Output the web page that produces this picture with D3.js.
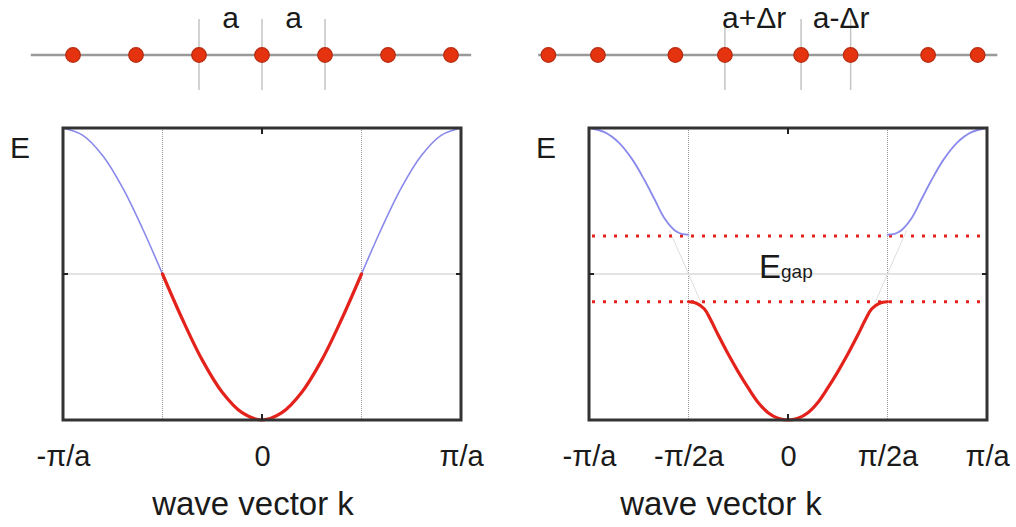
<!DOCTYPE html>
<html>
<head>
<meta charset="utf-8">
<script src="https://cdn.jsdelivr.net/npm/d3@7"></script>
<style>
    body { margin: 0; background: #fff; }
    svg text { font-family: "Liberation Sans", Arial, sans-serif; fill: #1a1a1a; }
</style>
</head>
<body>
<div id="chart"></div>
<script>
// ---- data (k in units of pi/a, E in arbitrary units 0..2) ----

// free chain band
const freeK = [-1, -0.9, -0.8, -0.7, -0.6, -0.5, -0.4, -0.3, -0.2, -0.1, 0,
               0.1, 0.2, 0.3, 0.4, 0.5, 0.6, 0.7, 0.8, 0.9, 1];
const freeE = [2.0, 1.95, 1.81, 1.59, 1.31, 1.0, 0.69, 0.41, 0.19, 0.05, 0,
               0.05, 0.19, 0.41, 0.69, 1.0, 1.31, 1.59, 1.81, 1.95, 2.0];

// dimerized chain, lower band (red)
const lowerK = [-0.5, -0.46, -0.42, -0.39, -0.35, -0.3, -0.25, -0.2, -0.15, -0.1, -0.05, 0,
                0.05, 0.1, 0.15, 0.2, 0.25, 0.3, 0.35, 0.39, 0.42, 0.46, 0.5];
const lowerE = [0.81, 0.80, 0.76, 0.69, 0.58, 0.45, 0.33, 0.22, 0.12, 0.05, 0.012, 0,
                0.012, 0.05, 0.12, 0.22, 0.33, 0.45, 0.58, 0.69, 0.76, 0.80, 0.81];

// dimerized chain, upper band (blue), left and right pieces
const upperLeftK = [-1, -0.92, -0.85, -0.78, -0.72, -0.67, -0.62, -0.57, -0.535, -0.5];
const upperLeftE = [2.0, 1.97, 1.90, 1.78, 1.64, 1.51, 1.38, 1.30, 1.275, 1.27];
const upperRightK = [0.5, 0.535, 0.57, 0.62, 0.67, 0.72, 0.78, 0.85, 0.92, 1];
const upperRightE = [1.27, 1.275, 1.30, 1.38, 1.51, 1.64, 1.78, 1.90, 1.97, 2.0];

const gapEdges = [1.26, 0.81];

const leftTicks = [-1, 0, 1];
const leftTickLabels = ["-π/a", "0", "π/a"];
const rightTicks = [-1, -0.5, 0, 0.5, 1];
const rightTickLabels = ["-π/a", "-π/2a", "0", "π/2a", "π/a"];

// atom positions along the chains (units of a)
const leftAtoms = [-3, -2, -1, 0, 1, 2, 3];
const leftMarkers = [-1, 0, 1];
const leftSpacingLabels = ["a", "a"];
const leftLabelPos = [-0.5, 0.5];

const rightAtoms = [-3.38, -2.6, -1.38, -0.6, 0.6, 1.38, 2.6, 3.38];
const rightMarkers = [-0.6, 0.6, 1.38];
const rightSpacingLabels = ["a+Δr", "a-Δr"];
const rightLabelPos = [-0.14, 1.23];

// ---- drawing ----
const W = 1016, H = 527;
const svg = d3.select("#chart").append("svg")
    .attr("width", W)
    .attr("height", H);

const red = "#e3231b";
const blue = "#8a8aec";

const y = d3.scaleLinear().domain([0, 2]).range([420, 128]);
const xL = d3.scaleLinear().domain([-1, 1]).range([63, 461]);
const xR = d3.scaleLinear().domain([-1, 1]).range([589, 987]);

function panel(x, ticks, tickLabels, titleX) {
    const g = svg.append("g");

    // grid
    g.selectAll(".vgrid")
        .data([-0.5, 0.5])
        .enter().append("line")
        .attr("x1", d => x(d)).attr("x2", d => x(d))
        .attr("y1", y(2)).attr("y2", y(0))
        .attr("stroke", "#999")
        .attr("stroke-width", 1)
        .attr("stroke-dasharray", "1,1");

    g.append("line")
        .attr("x1", x(-1)).attr("x2", x(1))
        .attr("y1", y(1)).attr("y2", y(1))
        .attr("stroke", "#c8c8c8")
        .attr("stroke-width", 1.2);

    // axis labels
    const axis = d3.axisBottom(x)
        .tickValues(ticks)
        .tickSize(0)
        .tickFormat((d, i) => tickLabels[i]);

    const ax = g.append("g")
        .attr("transform", `translate(0,${y(0)})`)
        .call(axis);
    ax.select(".domain").remove();
    ax.selectAll("text")
        .attr("y", 46)
        .attr("dy", 0)
        .style("font-size", "29px")
        .style("fill", "#1a1a1a");

    g.append("text")
        .attr("x", titleX)
        .attr("y", 515)
        .attr("text-anchor", "middle")
        .style("font-size", "33px")
        .text("wave vector k");

    g.append("text")
        .attr("x", x(-1) - 53)
        .attr("y", 158)
        .style("font-size", "30px")
        .text("E");

    return g;
}

function frame(g, x) {
    g.append("rect")
        .attr("x", x(-1)).attr("y", y(2))
        .attr("width", x(1) - x(-1))
        .attr("height", y(0) - y(2))
        .attr("fill", "none")
        .attr("stroke", "#333")
        .attr("stroke-width", 3);

    // small centre ticks
    g.append("line").attr("x1", x(0)).attr("x2", x(0)).attr("y1", y(2)).attr("y2", y(2) + 6)
        .attr("stroke", "#222").attr("stroke-width", 2);
    g.append("line").attr("x1", x(0)).attr("x2", x(0)).attr("y1", y(0)).attr("y2", y(0) - 6)
        .attr("stroke", "#222").attr("stroke-width", 2);
    g.append("line").attr("x1", x(-1)).attr("x2", x(-1) + 5).attr("y1", y(1)).attr("y2", y(1))
        .attr("stroke", "#222").attr("stroke-width", 2);
    g.append("line").attr("x1", x(1)).attr("x2", x(1) - 5).attr("y1", y(1)).attr("y2", y(1))
        .attr("stroke", "#222").attr("stroke-width", 2);
}

function curve(g, x, ks, es, color, width) {
    const line = d3.line()
        .x(d => x(d[0]))
        .y(d => y(d[1]))
        .curve(d3.curveCatmullRom.alpha(0.5));
    return g.append("path")
        .datum(ks.map((k, i) => [k, es[i]]))
        .attr("d", line)
        .attr("fill", "none")
        .attr("stroke", color)
        .attr("stroke-width", width)
        .attr("stroke-linecap", "round");
}

// left panel: free chain
const gL = panel(xL, leftTicks, leftTickLabels, 253);
const idx = freeK.map((k, i) => i);
const leftOuterA = idx.filter(i => freeK[i] <= -0.5);
const leftOuterB = idx.filter(i => freeK[i] >= 0.5);
const inner = idx.filter(i => Math.abs(freeK[i]) <= 0.5);
curve(gL, xL, leftOuterA.map(i => freeK[i]), leftOuterA.map(i => freeE[i]), blue, 1.6);
curve(gL, xL, leftOuterB.map(i => freeK[i]), leftOuterB.map(i => freeE[i]), blue, 1.6);
curve(gL, xL, inner.map(i => freeK[i]), inner.map(i => freeE[i]), red, 3.2);
frame(gL, xL);

// right panel: dimerized chain
const gR = panel(xR, rightTicks, rightTickLabels, 721);

// faint unperturbed band, only visible inside the gap
svg.append("clipPath").attr("id", "gapclip")
    .append("rect")
    .attr("x", xR(-1)).attr("width", xR(1) - xR(-1))
    .attr("y", y(1.3)).attr("height", y(0.8) - y(1.3));
curve(gR, xR, freeK, freeE, "#dedede", 1)
    .attr("clip-path", "url(#gapclip)");

gR.selectAll(".gapline")
    .data(gapEdges)
    .enter().append("line")
    .attr("x1", xR(-1) + 3).attr("x2", xR(1) - 5)
    .attr("y1", d => y(d)).attr("y2", d => y(d))
    .attr("stroke", red)
    .attr("stroke-width", 3)
    .attr("stroke-dasharray", "3,8");

curve(gR, xR, upperLeftK, upperLeftE, blue, 1.8);
curve(gR, xR, upperRightK, upperRightE, blue, 1.8);
curve(gR, xR, lowerK, lowerE, red, 3.2);
frame(gR, xR);

const egap = gR.append("text")
    .attr("x", 759)
    .attr("y", 278);
egap.append("tspan").style("font-size", "33px").text("E");
egap.append("tspan").style("font-size", "19px").text("gap");

// ---- atom chains ----
function chain(cx, unit, atoms, markers, labels, labelPos, lineDomain) {
    const s = d3.scaleLinear().domain([0, 1]).range([cx, cx + unit]);
    const g = svg.append("g");

    g.selectAll(".marker")
        .data(markers)
        .enter().append("line")
        .attr("x1", d => s(d)).attr("x2", d => s(d))
        .attr("y1", 19).attr("y2", 90)
        .attr("stroke", "#c4c4c4")
        .attr("stroke-width", 1.5);

    g.append("line")
        .attr("x1", s(lineDomain[0])).attr("x2", s(lineDomain[1]))
        .attr("y1", 55).attr("y2", 55)
        .attr("stroke", "#999")
        .attr("stroke-width", 2.5);

    g.selectAll("circle")
        .data(atoms)
        .enter().append("circle")
        .attr("cx", d => s(d))
        .attr("cy", 55)
        .attr("r", 7.3)
        .attr("fill", "#e5330f")
        .attr("stroke", "#b52a10")
        .attr("stroke-width", 1.2);

    g.selectAll(".lbl")
        .data(labels)
        .enter().append("text")
        .attr("x", (d, i) => s(labelPos[i]))
        .attr("y", 28)
        .attr("text-anchor", "middle")
        .style("font-size", "30px")
        .text(d => d);
}

chain(262, 63, leftAtoms, leftMarkers, leftSpacingLabels, leftLabelPos, [-3.67, 3.32]);
chain(763, 63.5, rightAtoms, rightMarkers, rightSpacingLabels, rightLabelPos, [-3.54, 3.69]);
</script>
</body>
</html>
